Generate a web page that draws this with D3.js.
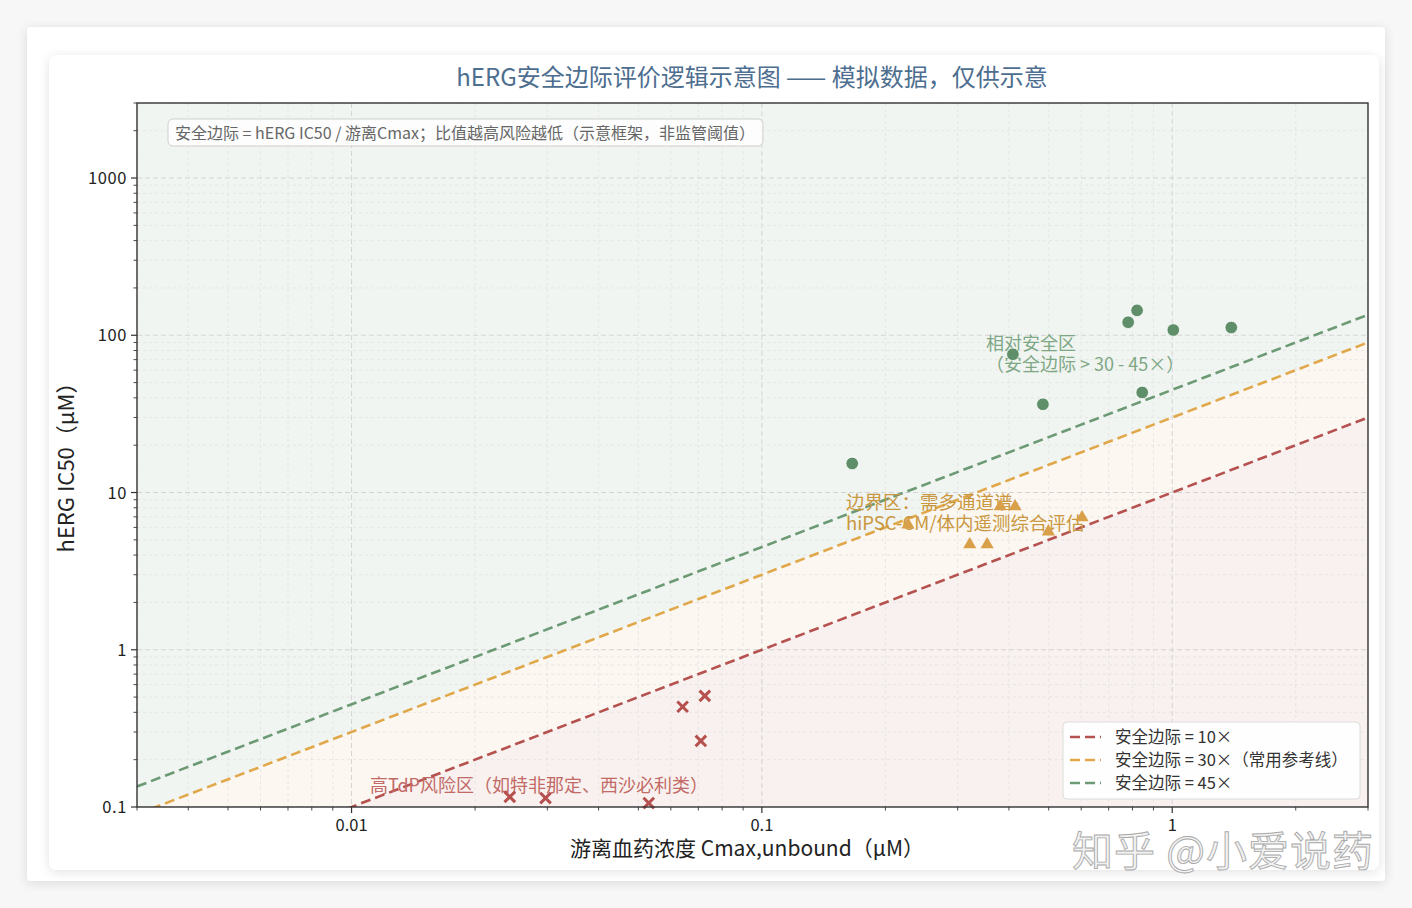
<!DOCTYPE html>
<html>
<head>
<meta charset="utf-8">
<script src="https://cdn.jsdelivr.net/npm/d3@7"></script>
<style>
  html, body { margin: 0; padding: 0; background: #f7f7f7; }
  svg { display: block; font-family: "Noto Sans CJK SC", "Noto Sans", sans-serif; }
</style>
</head>
<body>
<svg id="chart" width="1412" height="908"></svg>
<script>
// ---- data ----
const safeCmax = [0.166, 0.409, 0.484, 0.781, 0.821, 1.006, 1.393, 0.845];
const safeIC50 = [15.3, 75.7, 36.4, 121, 144, 108, 112, 43.3];

const borderCmax = [0.381, 0.414, 0.227, 0.603, 0.499, 0.321, 0.354];
const borderIC50 = [8.15, 8.15, 6.25, 6.93, 5.64, 4.67, 4.67];

const riskCmax = [0.0641, 0.0726, 0.071, 0.0243, 0.0297, 0.053];
const riskIC50 = [0.434, 0.509, 0.263, 0.116, 0.114, 0.106];

const margins = [10, 30, 45];
const marginLabels = ["安全边际 = 10×", "安全边际 = 30×（常用参考线）", "安全边际 = 45×"];
const marginColors = ["#b5524f", "#e0a84a", "#6b9a74"];

const xTicks = [0.01, 0.1, 1];
const yTicks = [0.1, 1, 10, 100, 1000];
const xDomain = [0.003, 3];
const yDomain = [0.1, 3000];

// ---- layout ----
const svg = d3.select("#chart");
const plot = { left: 137, right: 1368, top: 103, bottom: 807 };

// page cards
svg.append("defs").html(`
  <filter id="sh" x="-5%" y="-5%" width="110%" height="110%">
    <feGaussianBlur in="SourceAlpha" stdDeviation="6"/>
    <feOffset dy="2"/>
    <feComponentTransfer><feFuncA type="linear" slope="0.12"/></feComponentTransfer>
    <feMerge><feMergeNode/><feMergeNode in="SourceGraphic"/></feMerge>
  </filter>
  <clipPath id="plotclip"><rect x="${plot.left}" y="${plot.top}" width="${plot.right - plot.left}" height="${plot.bottom - plot.top}"/></clipPath>`);

svg.append("rect").attr("x", 27).attr("y", 27).attr("width", 1358).attr("height", 854)
  .attr("rx", 4).attr("fill", "#fff").attr("filter", "url(#sh)");
svg.append("rect").attr("x", 49).attr("y", 55).attr("width", 1330).attr("height", 815)
  .attr("rx", 8).attr("fill", "#fff").attr("filter", "url(#sh)");

const x = d3.scaleLog().domain(xDomain).range([plot.left, plot.right]);
const y = d3.scaleLog().domain(yDomain).range([plot.bottom, plot.top]);

const g = svg.append("g");
const clipped = g.append("g").attr("clip-path", "url(#plotclip)");

// zone fills
const xs = xDomain;
const lineAt = m => xs.map(v => [x(v), y(v * m)]);
const poly = pts => "M" + pts.map(p => p.join(",")).join("L") + "Z";
const l10 = lineAt(10), l30 = lineAt(30);
clipped.append("path").attr("d", poly([...l30, [x(xs[1]), plot.top - 5], [x(xs[0]), plot.top - 5]]))
  .attr("fill", "#f1f5f1");
clipped.append("path").attr("d", poly([...l10, ...l30.slice().reverse()]))
  .attr("fill", "#fcf7f1");
clipped.append("path").attr("d", poly([...l10, [x(xs[1]), plot.bottom + 5], [x(xs[0]), plot.bottom + 5]]))
  .attr("fill", "#f8f1ef");

// grid
const decadeMinor = (lo, hi) => {
  const out = [];
  for (let e = Math.floor(Math.log10(lo)); e <= Math.ceil(Math.log10(hi)); e++)
    for (let k = 1; k < 10; k++) {
      const v = k * Math.pow(10, e);
      if (v >= lo && v <= hi) out.push({ v, major: k === 1 });
    }
  return out;
};
const xg = decadeMinor(xDomain[0], xDomain[1]);
const yg = decadeMinor(yDomain[0], yDomain[1]);
clipped.selectAll(".gx").data(xg).join("line")
  .attr("x1", d => x(d.v)).attr("x2", d => x(d.v)).attr("y1", plot.top).attr("y2", plot.bottom)
  .attr("stroke", d => d.major ? "#d3d3d3" : "#e2e2e2")
  .attr("stroke-width", d => d.major ? 1 : 0.8)
  .attr("stroke-dasharray", d => d.major ? "5,3" : "3,3");
clipped.selectAll(".gy").data(yg).join("line")
  .attr("y1", d => y(d.v)).attr("y2", d => y(d.v)).attr("x1", plot.left).attr("x2", plot.right)
  .attr("stroke", d => d.major ? "#d3d3d3" : "#e2e2e2")
  .attr("stroke-width", d => d.major ? 1 : 0.8)
  .attr("stroke-dasharray", d => d.major ? "5,3" : "3,3");

// margin lines
margins.forEach((m, i) => {
  clipped.append("path").attr("d", d3.line()(lineAt(m)))
    .attr("stroke", marginColors[i]).attr("stroke-width", 2.6)
    .attr("stroke-dasharray", "10,5").attr("fill", "none");
});

// annotations
const ann = g.append("g");
ann.append("text").attr("x", 986).attr("y", 350).attr("fill", "#7ea785").attr("font-size", 18)
  .text("相对安全区");
ann.append("text").attr("x", 986).attr("y", 371).attr("fill", "#7ea785").attr("font-size", 18)
  .text("（安全边际 > 30 - 45×）");
ann.append("text").attr("x", 846).attr("y", 509).attr("fill", "#c9973f").attr("font-size", 18.5)
  .text("边界区：需多通道谱-");
ann.append("text").attr("x", 846).attr("y", 530).attr("fill", "#c9973f").attr("font-size", 18.5)
  .text("hiPSC-CM/体内遥测综合评估");
ann.append("text").attr("x", 370).attr("y", 792).attr("fill", "#c26a66").attr("font-size", 18)
  .text("高TdP风险区（如特非那定、西沙必利类）");

// points
const safe = safeCmax.map((c, i) => [c, safeIC50[i]]);
const border = borderCmax.map((c, i) => [c, borderIC50[i]]);
const risk = riskCmax.map((c, i) => [c, riskIC50[i]]);

g.selectAll(".safe").data(safe).join("circle")
  .attr("cx", d => x(d[0])).attr("cy", d => y(d[1])).attr("r", 6.3)
  .attr("fill", "#5e8f68").attr("stroke", "#fff").attr("stroke-width", 0.8);
const tri = d3.symbol().type(d3.symbolTriangle).size(75);
g.selectAll(".border").data(border).join("path")
  .attr("d", tri).attr("transform", d => `translate(${x(d[0])},${y(d[1])})`)
  .attr("fill", "#d9a04a");
const cross = d3.symbol().type(d3.symbolX).size(75);
g.selectAll(".risk").data(risk).join("path")
  .attr("d", cross).attr("transform", d => `translate(${x(d[0])},${y(d[1])})`)
  .attr("fill", "none").attr("stroke", "#b5504e").attr("stroke-width", 3);

// axes (ticks from the scales)
const ax = g.append("g");
ax.selectAll(".xt").data(xg).join("line")
  .attr("x1", d => x(d.v)).attr("x2", d => x(d.v))
  .attr("y1", plot.bottom).attr("y2", d => plot.bottom + (d.major ? 6 : 3.5))
  .attr("stroke", "#333").attr("stroke-width", d => d.major ? 1.2 : 0.9);
ax.selectAll(".yt").data(yg).join("line")
  .attr("y1", d => y(d.v)).attr("y2", d => y(d.v))
  .attr("x1", plot.left).attr("x2", d => plot.left - (d.major ? 6 : 3.5))
  .attr("stroke", "#333").attr("stroke-width", d => d.major ? 1.2 : 0.9);
ax.selectAll(".xl").data(xTicks).join("text")
  .attr("x", d => x(d)).attr("y", plot.bottom + 24).attr("text-anchor", "middle")
  .attr("font-size", 16.5).attr("fill", "#222").text(d => d3.format("~g")(d));
ax.selectAll(".yl").data(yTicks).join("text")
  .attr("x", plot.left - 10).attr("y", d => y(d) + 6).attr("text-anchor", "end")
  .attr("font-size", 16.5).attr("fill", "#222").attr("letter-spacing", 0.6).text(d => d3.format("~g")(d));

// frame
g.append("rect").attr("x", plot.left).attr("y", plot.top)
  .attr("width", plot.right - plot.left).attr("height", plot.bottom - plot.top)
  .attr("fill", "none").attr("stroke", "#333").attr("stroke-width", 1.4);

// info box
g.append("rect").attr("x", 168).attr("y", 119).attr("width", 595).attr("height", 27).attr("rx", 5)
  .attr("fill", "#fff").attr("fill-opacity", 0.75).attr("stroke", "#cfcfcf");
g.append("text").attr("x", 175).attr("y", 138.5).attr("font-size", 16).attr("fill", "#666")
  .text("安全边际 = hERG IC50 / 游离Cmax；比值越高风险越低（示意框架，非监管阈值）");

// legend
const lg = g.append("g");
lg.append("rect").attr("x", 1063).attr("y", 722).attr("width", 297).attr("height", 77).attr("rx", 4)
  .attr("fill", "#fff").attr("fill-opacity", 0.9).attr("stroke", "#dcdcdc");
marginLabels.forEach((t, i) => {
  const yy = 737 + i * 23;
  lg.append("line").attr("x1", 1070).attr("x2", 1101).attr("y1", yy).attr("y2", yy)
    .attr("stroke", marginColors[i]).attr("stroke-width", 2.6).attr("stroke-dasharray", "10,5");
  lg.append("text").attr("x", 1115).attr("y", yy + 6).attr("font-size", 16.5).attr("fill", "#333").text(t);
});

// titles
svg.append("text").attr("x", 752).attr("y", 86).attr("text-anchor", "middle")
  .attr("font-size", 24).attr("fill", "#4d6e8f")
  .text("hERG安全边际评价逻辑示意图 —— 模拟数据，仅供示意");
svg.append("text").attr("x", 747).attr("y", 856).attr("text-anchor", "middle")
  .attr("font-size", 21).attr("fill", "#222").text("游离血药浓度 Cmax,unbound（μM）");
svg.append("text").attr("transform", `translate(74,462) rotate(-90)`)
  .attr("text-anchor", "middle").attr("font-size", 22).attr("fill", "#222").text("hERG IC50（μM）");

// watermark
svg.append("text").attr("x", 1072).attr("y", 866).attr("font-size", 41)
  .attr("fill", "#f2f2f2").attr("stroke", "#a9a9a9").attr("stroke-width", 0.9)
  .attr("letter-spacing", 1).text("知乎 @小爱说药");
</script>
</body>
</html>
